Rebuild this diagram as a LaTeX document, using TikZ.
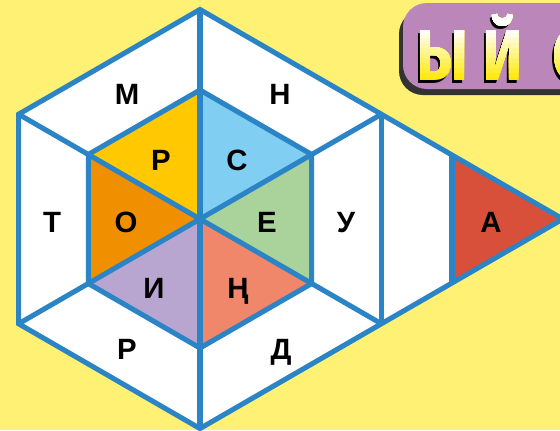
\documentclass[tikz,border=0pt]{standalone}
\usepackage{fontspec}
\setmainfont{Liberation Sans}
\newfontfamily\logofont{Fira Sans}
\definecolor{bg}{RGB}{254,241,115}
\definecolor{lineblue}{RGB}{42,132,198}
\definecolor{cyel}{RGB}{255,200,0}
\definecolor{cblue}{RGB}{128,206,242}
\definecolor{cgreen}{RGB}{170,210,155}
\definecolor{csalmon}{RGB}{240,135,106}
\definecolor{clav}{RGB}{184,166,208}
\definecolor{corange}{RGB}{240,144,0}
\definecolor{cred}{RGB}{217,80,58}
\definecolor{purp}{RGB}{187,135,187}
\definecolor{logoyellow}{RGB}{255,232,0}
\tikzset{
  ln/.style={draw=lineblue,line width=3.8pt},
  lab/.style={font=\bfseries\fontsize{22}{22}\selectfont,anchor=base,inner sep=0pt},
  logo/.style={font=\logofont\bfseries\fontsize{54}{54}\selectfont,anchor=base,inner sep=0pt,xscale=0.85},
}
\newcommand\logoletters[1]{%
  \node[logo,text=#1] (lga) at (443,80) {Ы};
  \node[logo,text=#1] (lgb) at (503,80) {Й};
  \node[logo,text=#1] (lgc) at (570,80) {С};}
\begin{document}
\begin{tikzpicture}[x=0.75pt,y=-0.75pt]
\useasboundingbox (0,0) rectangle (560,430);
\clip (0,0) rectangle (560,430);
\fill[bg] (0,0) rectangle (560,430);
% geometry
\coordinate (O) at (200,219);
\coordinate (T) at (200,9.5);
\coordinate (UL) at (18.6,114.25);
\coordinate (LL) at (18.6,323.75);
\coordinate (B) at (200,428.5);
\coordinate (UR) at (381.4,114.25);
\coordinate (LR) at (381.4,323.75);
\coordinate (X) at (562.8,219);
\coordinate (t) at (200,90);
\coordinate (ul) at (88.3,154.5);
\coordinate (ll) at (88.3,283.5);
\coordinate (b) at (200,348);
\coordinate (ur) at (311.7,154.5);
\coordinate (lr) at (311.7,283.5);
\coordinate (ra) at (452,155);
\coordinate (rb) at (452,283);
% fills
\fill[white] (T)--(UR)--(X)--(LR)--(B)--(LL)--(UL)--cycle;
\fill[cyel] (O)--(t)--(ul)--cycle;
\fill[cblue] (O)--(t)--(ur)--cycle;
\fill[cgreen] (O)--(ur)--(lr)--cycle;
\fill[csalmon] (O)--(lr)--(b)--cycle;
\fill[clav] (O)--(b)--(ll)--cycle;
\fill[corange] (O)--(ll)--(ul)--cycle;
\fill[cred] (ra)--(X)--(rb)--cycle;
% lines
\draw[ln] (T)--(UR)--(X)--(LR)--(B)--(LL)--(UL)--cycle;
\draw[ln] (t)--(ur)--(lr)--(b)--(ll)--(ul)--cycle;
\draw[ln] (T)--(B);
\draw[ln] (UL)--(LR);
\draw[ln] (LL)--(UR);
\draw[ln] (UR)--(LR);
\draw[ln] (ra)--(rb);
% labels
\node[lab] (m) at (127,104.5) {М};
\node[lab] (n) at (280,104.5) {Н};
\node[lab] (r1) at (161,170) {Р};
\node[lab] (s) at (237,170) {С};
\node[lab] (tt) at (52,232) {Т};
\node[lab] (o) at (126,232) {О};
\node[lab] (e) at (267,232) {Е};
\node[lab] (u) at (346,232) {У};
\node[lab] (i) at (154,298) {И};
\node[lab] (ng) at (238,298) {Ң};
\node[lab] (r2) at (127,359) {Р};
\node[lab] (d) at (281,359) {Д};
\node[lab] (a) at (491,232) {А};
% logo
\fill[black!80,rounded corners=18pt] (399,10) rectangle (600,95);
\fill[purp,rounded corners=18pt] (403,3) rectangle (600,89);
\begin{scope}[shift={(-2,3)}]
\logoletters{black}
\end{scope}
\logoletters{logoyellow}
\foreach \k in {1,...,10}{
  \pgfmathsetmacro\p{\k*10}
  \begin{scope}
  \clip (380,0) rectangle (600,{82-\k*5});
  \logoletters{white!\p!logoyellow}
  \end{scope}
}
\end{tikzpicture}
\end{document}
